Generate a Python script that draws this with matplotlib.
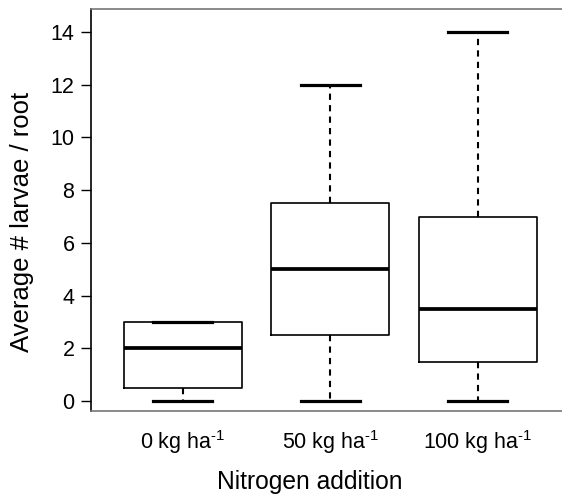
import numpy as np
import matplotlib
matplotlib.use('Agg')
import matplotlib.pyplot as plt

plt.rcParams['font.family'] = ['Liberation Sans', 'DejaVu Sans']
plt.rcParams['mathtext.fontset'] = 'custom'
plt.rcParams['mathtext.rm'] = 'Liberation Sans'
plt.rcParams['mathtext.it'] = 'Liberation Sans'
plt.rcParams['mathtext.default'] = 'regular'

# Data (five-number summaries)
groups = ['0 kg ha$^{\u20101}$', '50 kg ha$^{\u20101}$', '100 kg ha$^{\u20101}$']
whisker_low = [0, 0, 0]
q1 = [0.5, 2.5, 1.5]
medians = [2, 5, 3.5]
q3 = [3, 7.5, 7]
whisker_high = [3, 12, 14]
yticks = [0, 2, 4, 6, 8, 10, 12, 14]

stats = []
for i in range(len(groups)):
    stats.append({'whislo': whisker_low[i], 'q1': q1[i], 'med': medians[i],
                  'q3': q3[i], 'whishi': whisker_high[i], 'fliers': [],
                  'label': groups[i]})

fig = plt.figure(figsize=(5.62, 4.96), dpi=100)
ax = fig.add_axes([0.162, 0.171, 0.838, 0.811])

ax.bxp(stats, positions=[1, 2, 3], widths=0.8, showfliers=False,
       boxprops=dict(color='black', linewidth=1.2),
       medianprops=dict(color='black', linewidth=2.7),
       whiskerprops=dict(color='black', linewidth=1.5, linestyle=(0, (3, 2.5))),
       capprops=dict(color='black', linewidth=2.3),
       capwidths=0.4)

ax.set_xlim(0.38, 3.57)
ax.set_ylim(-0.379, 14.873)
ax.set_yticks(yticks)
ax.set_xticks([1, 2, 3])
ax.set_xticklabels(groups)
ax.tick_params(axis='y', labelsize=15.5, length=7, width=1, pad=5)
ax.tick_params(axis='x', labelsize=15.5, length=0, pad=12)

ax.spines['right'].set_visible(False)
ax.spines['top'].set_color('#777777')
ax.spines['bottom'].set_color('#777777')
ax.spines['left'].set_color('black')
for s in ['top', 'bottom', 'left']:
    ax.spines[s].set_linewidth(1.2)

ax.set_xlabel('Nitrogen addition', fontsize=17.7)
ax.set_ylabel('Average # larvae / root', fontsize=18.5)
ax.xaxis.set_label_coords(0.465, -0.146)
ax.yaxis.set_label_coords(-0.121, 0.471)

fig.savefig('out.png', dpi=100)
